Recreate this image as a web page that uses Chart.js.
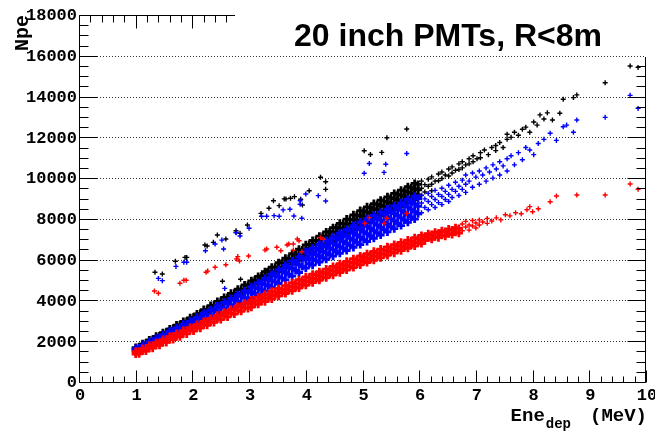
<!DOCTYPE html>
<html>
<head>
<meta charset="utf-8">
<script src="https://cdn.jsdelivr.net/npm/chart.js@4.4.1/dist/chart.umd.min.js"></script>
<style>
  html, body { margin: 0; padding: 0; background: #fff; }
  canvas { display: block; }
</style>
</head>
<body>
<canvas id="npeChart" width="655" height="432"></canvas>
<script>
// axis ticks
const xTicks = [0, 1, 2, 3, 4, 5, 6, 7, 8, 9, 10];
const yTicks = [0, 2000, 4000, 6000, 8000, 10000, 12000, 14000, 16000, 18000];

// each row: [Ene_dep (MeV), Npe, Npe, ...]
// dense part of each band
const blackCore = [
  [1.00,1690,1590],[1.06,1720,1620],[1.12,1870,1760],[1.18,1900,1790],[1.24,2060,1940],[1.30,2080,1970],
  [1.36,2240,2120],[1.42,2260,2140],[1.48,2420,2300],[1.54,2440,2320],[1.60,2600,2480],[1.66,2620,2490],
  [1.72,2790,2650],[1.78,2800,2670],[1.84,2970,2830],[1.90,2980,2840],[1.96,3150,3010],[2.02,3170,3020],
  [2.08,3340,3200],[2.14,3360,3210],[2.20,3550,3390],[2.26,3560,3400],[2.32,3750,3580],[2.38,3760,3590],
  [2.44,3950,3780],[2.50,3960,3780],[2.56,4150,3970],[2.62,4150,3970],[2.68,4350,4170],[2.74,4350,4160],
  [2.80,4550,4360],[2.86,4550,4350],[2.92,4760,4550],[2.98,4750,4540],
  [3.04,4960,4800,4630],[3.10,4990,4820],[3.16,5180,5000,4830],[3.22,5200,5020],[3.28,5410,5210,5020],
  [3.34,5420,5210],[3.40,5630,5420,5210],[3.46,5630,5410],[3.52,5850,5620,5400],[3.58,5840,5610],
  [3.64,6070,5830,5590],[3.70,6060,5810],[3.76,6290,6040,5790],[3.82,6270,6010],[3.88,6510,6240,5980],
  [3.94,6480,6210],[4.00,6730,6450,6170],
  [4.06,6740,6550,6360],[4.12,6940,6740,6550,6360],[4.18,6950,6750,6550],[4.24,7150,6950,6750,6540],
  [4.30,7150,6950,6740],[4.36,7360,7150,6940,6730],[4.42,7360,7140,6930],[4.48,7570,7350,7130,6910],
  [4.54,7570,7340,7120],[4.60,7780,7550,7330,7100],[4.66,7770,7540,7310],[4.72,7990,7750,7520,7290],
  [4.78,7980,7740,7500],[4.84,8200,7960,7720,7470],[4.90,8180,7940,7690],[4.96,8410,8160,7910,7660],
  [5.02,8380,8130,7870],[5.08,8590,8330,8080,7830],[5.14,8550,8290,8030],[5.20,8750,8500,8240,7990],
  [5.26,8710,8450,8190],[5.32,8920,8660,8400,8150],[5.38,8870,8610,8350],[5.44,9080,8820,8570,8310],
  [5.50,9040,8780,8510],[5.56,9250,8990,8730,8470],[5.62,9200,8940,8670],[5.68,9410,9150,8890,8620],
  [5.74,9360,9100,8830],[5.80,9580,9310,9050,8780],[5.86,9530,9260,9000],[5.92,9740,9470,9210,8940],
  [5.98,9690,9420,9160]
];
// sparse high-energy tail
const blackTail = [
  [6.04,9850,9500,9150],[6.10,9680,9320],[6.16,9950,9600],[6.22,10060,9700,9380],[6.28,9850],[6.34,10200,9870],
  [6.40,10300,9980],[6.46,10150],[6.52,10450,10100],[6.58,10550,10250],[6.64,10380],[6.70,10700,10420],
  [6.76,10800,10500],[6.82,10650],[6.88,10950,10700],[6.95,11100,10800],[7.02,10950],[7.08,11250,11000],
  [7.15,11380],[7.22,11150],[7.28,11500],[7.35,11600,11350],[7.42,11750],[7.48,11500],[7.55,11900,12150],
  [7.62,12000],[7.68,12250],[7.75,12100],[7.82,12400],[7.88,12500],[7.95,12250],[8.02,12750],[8.08,12600],
  [8.13,13100],[8.20,12900],[8.26,13200],[8.35,12850],[8.48,13180],[8.54,13870],[8.72,13950],[8.78,14080],
  [9.28,14680],[9.72,15500],[9.86,15430]
];
// isolated events above the band
const blackStray = [
  [1.34,5380],[1.47,5300],[1.70,5920],[1.87,6110],[1.90,6110],[2.22,6720],[2.26,6670],[2.37,6850],[2.44,7210],
  [2.53,4940],[2.59,7010],[2.77,7420],[2.77,7340],[2.84,7290],[2.85,5040],[2.97,7700],[3.21,8270],[3.31,5460],
  [3.35,8520],[3.43,8890],[3.53,8650],[3.62,8980],[3.65,8980],[3.73,9010],[3.80,9090],[3.91,8960],[3.94,8680],
  [4.06,9380],[4.26,10040],[4.35,9820],[4.35,9450],[5.03,11340],[5.14,11160],[5.34,11260],[5.43,11980],[5.78,12410]
];

const blueCore = [
  [1.00,1640,1510],[1.06,1650,1520],[1.12,1810,1670],[1.18,1820,1670],[1.24,1980,1830],[1.30,1980,1820],
  [1.36,2150,1990],[1.42,2140,1970],[1.48,2320,2140],[1.54,2310,2130],[1.60,2490,2300],[1.66,2470,2280],
  [1.72,2660,2460],[1.78,2630,2430],[1.84,2830,2620],[1.90,2800,2580],[1.96,2990,2780],[2.02,2960,2740],
  [2.08,3170,2940],[2.14,3140,2900],[2.20,3360,3110],[2.26,3310,3060],[2.32,3540,3280],[2.38,3490,3220],
  [2.44,3730,3450],[2.50,3670,3380],[2.56,3910,3620],[2.62,3840,3540],[2.68,4100,3790],[2.74,4020,3700],
  [2.80,4280,3960],[2.86,4200,3860],[2.92,4470,4130],[2.98,4370,4020],
  [3.04,4660,4390,4110],[3.10,4630,4340],[3.16,4870,4580,4290],[3.22,4830,4530],[3.28,5080,4780,4470],
  [3.34,5030,4720],[3.40,5290,4970,4650],[3.46,5240,4910],[3.52,5510,5170,4830],[3.58,5440,5090],
  [3.64,5720,5360,5010],[3.70,5640,5280],[3.76,5930,5560,5190],[3.82,5850,5470],[3.88,6140,5750,5370],
  [3.94,6050,5660],[4.00,6390,5990,5590],
  [4.06,6350,6070,5800],[4.12,6570,6290,6010,5730],[4.18,6520,6240,5950],[4.24,6750,6460,6170,5880],
  [4.30,6700,6400,6100],[4.36,6940,6630,6330,6020],[4.42,6870,6560,6250],[4.48,7120,6800,6490,6170],
  [4.54,7050,6720,6400],[4.60,7300,6970,6640,6310],[4.66,7230,6890,6550],[4.72,7480,7140,6800,6450],
  [4.78,7400,7050,6700],[4.84,7670,7310,6960,6600],[4.90,7580,7210,6850],[4.96,7850,7480,7110,6740],
  [5.02,7750,7380,7000],[5.08,8010,7640,7270,6890],[5.14,7910,7530,7160],[5.20,8170,7800,7420,7050],
  [5.26,8060,7690,7310],[5.32,8330,7950,7580,7210],[5.38,8220,7840,7470],[5.44,8480,8110,7740,7360],
  [5.50,8380,8000,7620],[5.56,8640,8260,7900,7520],[5.62,8530,8160,7780],[5.68,8790,8420,8050,7670],
  [5.74,8690,8310,7940],[5.80,8950,8580,8200,7830],[5.86,8840,8470,8090],[5.92,9110,8730,8360,7990],
  [5.98,9000,8620,8250]
];
const blueTail = [
  [6.04,9160,8780,8300],[6.10,8980,8560],[6.16,9250,8850,8450],[6.22,9100,8700],[6.28,9400,8950,8560],
  [6.34,9200,8800],[6.40,9500,9100,8700],[6.46,9350,8950],[6.52,9650,9200,8850],[6.58,9450,9050],
  [6.64,9800,9350],[6.70,9600,9150],[6.76,9900,9450],[6.82,10150,9700,9300],[6.88,9850],[6.94,10250,9550],
  [7.00,10050],[7.06,10350,9700],[7.12,10150],[7.18,10500,9850],[7.24,10300],[7.30,10650,10000],[7.36,10450],
  [7.42,10800,10150],[7.48,10600],[7.55,10950,10350],[7.62,11100],[7.68,10650],[7.75,11250],[7.82,10900],
  [7.88,11500],[7.95,11380],[8.02,11150],[8.10,11700],[8.20,11900],[8.31,12200],[8.42,11850],[8.54,12520],
  [8.60,12600],[8.72,12250],[8.78,12850],[9.28,12980],[9.72,14060],[9.86,13420]
];
const blueStray = [
  [1.40,5080],[1.47,4970],[1.71,5670],[1.85,5870],[1.90,5870],[2.23,6440],[2.40,6770],[2.52,6960],[2.55,6520],
  [2.57,4590],[2.77,7320],[2.84,7160],[3.00,7540],[3.22,8130],[3.31,8130],[3.44,8160],[3.53,8130],[3.60,8440],
  [3.72,8470],[3.79,8140],[3.90,8890],[3.90,8720],[3.93,8030],[4.00,9220],[4.22,9140],[4.35,8880],[5.03,10240],
  [5.12,10720],[5.38,10280],[5.41,10680],[5.78,11210]
];

const redCore = [
  [1.00,1490,1370],[1.06,1500,1380],[1.12,1640,1520],[1.18,1640,1520],[1.24,1790,1660],[1.30,1790,1660],
  [1.36,1930,1800],[1.42,1930,1800],[1.48,2080,1940],[1.54,2080,1940],[1.60,2230,2090],[1.66,2230,2080],
  [1.72,2380,2230],[1.78,2370,2220],[1.84,2520,2370],[1.90,2520,2360],[1.96,2670,2520],[2.02,2660,2500],
  [2.08,2820,2660],[2.14,2810,2640],[2.20,2970,2800],[2.26,2950,2780],[2.32,3120,2940],[2.38,3100,2920],
  [2.44,3270,3090],[2.50,3240,3060],[2.56,3420,3230],[2.62,3390,3190],[2.68,3570,3370],[2.74,3540,3330],
  [2.80,3720,3510],[2.86,3680,3470],[2.92,3870,3650],[2.98,3830,3610],
  [3.04,4020,3850,3670],[3.10,4000,3830],[3.16,4160,3980,3810],[3.22,4140,3960],[3.28,4300,4120,3940],
  [3.34,4280,4100],[3.40,4450,4260,4070],[3.46,4420,4240],[3.52,4590,4400,4210],[3.58,4560,4370],
  [3.64,4730,4540,4340],[3.70,4700,4510],[3.76,4870,4670,4470],[3.82,4840,4640],[3.88,5020,4810,4610],
  [3.94,4980,4780],[4.00,5160,4950,4740],
  [4.06,5120,4910],[4.12,5290,5080,4870],[4.18,5250,5030],[4.24,5410,5200,4990],[4.30,5370,5160],
  [4.36,5540,5330,5110],[4.42,5500,5280],[4.48,5670,5450,5240],[4.54,5620,5410],[4.60,5800,5580,5360],
  [4.66,5750,5530],[4.72,5920,5710,5490],[4.78,5880,5660],[4.84,6050,5830,5610],[4.90,6000,5790],
  [4.96,6180,5960,5740],[5.02,6130,5910],[5.08,6290,6080,5860],[5.14,6240,6020],[5.20,6410,6190,5970],
  [5.26,6350,6140],[5.32,6520,6300,6090],[5.38,6470,6260],[5.44,6630,6420,6210],[5.50,6580,6370],
  [5.56,6740,6530,6320],[5.62,6690,6490],[5.68,6850,6650,6440],[5.74,6810,6600],[5.80,6960,6760,6560],
  [5.86,6920,6720],[5.92,7080,6870,6670],[5.98,7030,6830],
  [6.04,7190,6990,6790],[6.10,7140,6930],[6.16,7270,7060],[6.22,7230,7000],[6.28,7350,7130],[6.34,7300,7080],
  [6.40,7420,7200],[6.46,7380,7150],[6.52,7500,7270],[6.58,7450,7230],[6.64,7570,7350],[6.70,7530,7300]
];
const redTail = [
  [6.76,7750,7420],[6.82,7880,7600],[6.88,7700,7450],[6.94,7920,7650],[7.00,7800,7550],[7.06,7950,7700],
  [7.12,7850],[7.20,8020,7780],[7.28,7900],[7.36,8050],[7.44,7950],[7.52,8200],[7.60,8150],[7.70,8300],
  [7.80,8250],[7.90,8450],[7.95,8600],[8.00,8350],[8.10,8500],[8.31,8840],[8.42,9120],[8.78,9170],
  [9.28,9170],[9.72,9710],[9.86,9450]
];
const redStray = [
  [1.33,4460],[1.40,4350],[1.78,4840],[1.85,4990],[1.89,4990],[2.24,5380],[2.27,5440],[2.40,5630],[2.59,5750],
  [2.78,6030],[2.80,6150],[2.83,5930],[2.99,6180],[3.28,6470],[3.31,6520],[3.49,6610],[3.56,6440],[3.67,6720],
  [3.70,6770],[3.78,6470],[3.78,6770],[3.85,7010],[3.88,6930],[3.93,6390],[4.26,7080],[4.31,7000],[5.04,7780],
  [5.12,8060],[5.38,7780],[5.43,8030],[5.78,8270]
];

function toPoints(...groups) {
  const pts = [];
  groups.forEach(rows => rows.forEach(r => {
    for (let i = 1; i < r.length; i++) pts.push({ x: r[0], y: r[i] });
  }));
  return pts;
}

const monoBold = 'bold 17px "Liberation Mono", "Courier New", monospace';

// ROOT-like frame: dotted grid, inward ticks, labels, titles
const framePlugin = {
  id: 'rootFrame',
  beforeDraw(chart) {
    const c = chart.ctx;
    c.save();
    c.fillStyle = '#fff';
    c.fillRect(0, 0, chart.width, chart.height);
    c.restore();
  },
  beforeDatasetsDraw(chart) {
    const c = chart.ctx, a = chart.chartArea, ys = chart.scales.y;
    c.save();
    c.strokeStyle = '#333';
    c.lineWidth = 1;
    c.setLineDash([1, 2]);
    yTicks.forEach(v => {
      if (v === 0 || v === 18000) return;
      const py = Math.round(ys.getPixelForValue(v)) + 0.5;
      c.beginPath();
      c.moveTo(a.left, py);
      c.lineTo(a.right, py);
      c.stroke();
    });
    c.restore();
  },
  afterDatasetsDraw(chart) {
    const c = chart.ctx, a = chart.chartArea;
    const xs = chart.scales.x, ys = chart.scales.y;
    const L = a.left + 0.5, R = Math.round(a.right) - 0.5, T = a.top + 0.5, B = Math.round(a.bottom) + 0.5;
    const topEnd = 235, rightStart = 57;
    c.save();
    c.strokeStyle = '#000';
    c.lineWidth = 1;
    c.beginPath();
    c.moveTo(L, T); c.lineTo(L, B); c.lineTo(R, B); c.lineTo(R, rightStart);
    c.moveTo(L, T); c.lineTo(topEnd, T);
    // y ticks (every 500, major every 2000)
    for (let i = 0; i <= 36; i++) {
      const py = Math.round(ys.getPixelForValue(i * 500)) + 0.5;
      const len = i % 4 === 0 ? 18 : 9;
      c.moveTo(L, py); c.lineTo(L + len, py);
      if (py >= rightStart) { c.moveTo(R, py); c.lineTo(R - len, py); }
    }
    // x ticks (every 0.2, major every 1)
    for (let i = 0; i <= 50; i++) {
      const px = Math.round(xs.getPixelForValue(i / 5)) + 0.5;
      const major = i % 5 === 0;
      c.moveTo(px, B); c.lineTo(px, B - (major ? 12 : 6));
      if (px <= topEnd) { c.moveTo(px, T); c.lineTo(px, T + (major ? 13 : 7)); }
    }
    c.stroke();

    // tick labels
    c.fillStyle = '#000';
    c.font = monoBold;
    c.textAlign = 'right';
    c.textBaseline = 'middle';
    yTicks.forEach(v => c.fillText(String(v), 77, ys.getPixelForValue(v) + 1));
    c.textAlign = 'center';
    c.textBaseline = 'top';
    xTicks.forEach(v => c.fillText(String(v), xs.getPixelForValue(v) + 1, 387));

    // y title
    c.save();
    c.translate(28, 15);
    c.rotate(-Math.PI / 2);
    c.font = 'bold 20px "Liberation Mono", "Courier New", monospace';
    c.textAlign = 'right';
    c.textBaseline = 'alphabetic';
    c.fillText('Npe', 0, 0);
    c.restore();

    // x title: Ene_dep  (MeV)
    c.textBaseline = 'alphabetic';
    c.textAlign = 'left';
    const big = 'bold 19px "Liberation Mono", "Courier New", monospace';
    const small = 'bold 14px "Liberation Mono", "Courier New", monospace';
    c.font = big;
    const wUnit = c.measureText('(MeV)').width;
    const wEne = c.measureText('Ene').width;
    c.font = small;
    const wDep = c.measureText('dep').width;
    const gap = 20;
    let x0 = 647 - wUnit - gap - wDep - wEne;
    c.font = big;
    c.fillText('Ene', x0, 421);
    c.font = small;
    c.fillText('dep', x0 + wEne + 1, 428);
    c.font = big;
    c.fillText('(MeV)', 647 - wUnit, 421);

    // plot title
    c.font = 'bold 32px "Liberation Sans", Arial, sans-serif';
    c.fillText('20 inch PMTs, R<8m', 294, 46);
    c.restore();
  }
};

// dense band markers are drawn heavier so the cloud fills in like the original
const denseMarker = { pointStyle: 'cross', pointRadius: 4, pointBorderWidth: 2.8, pointHoverRadius: 0 };
const thinMarker = { pointStyle: 'cross', pointRadius: 2.5, pointBorderWidth: 1.4, pointHoverRadius: 0 };

function series(label, colour, order, pts, marker) {
  return Object.assign({ label, data: pts, borderColor: colour, backgroundColor: colour, order }, marker);
}

new Chart(document.getElementById('npeChart').getContext('2d'), {
  type: 'scatter',
  data: {
    datasets: [
      series('red band', '#ff0000', 0, toPoints(redCore), denseMarker),
      series('red', '#ff0000', 1, toPoints(redTail, redStray), thinMarker),
      series('blue band', '#0000ff', 2, toPoints(blueCore), denseMarker),
      series('blue', '#0000ff', 3, toPoints(blueTail, blueStray), thinMarker),
      series('black band', '#000000', 4, toPoints(blackCore), denseMarker),
      series('black', '#000000', 5, toPoints(blackTail, blackStray), thinMarker)
    ]
  },
  options: {
    responsive: false,
    animation: false,
    events: [],
    layout: { padding: { left: 79, right: 9, top: 15, bottom: 50 } },
    plugins: { legend: { display: false }, tooltip: { enabled: false } },
    scales: {
      x: { type: 'linear', min: 0, max: 10, display: false },
      y: { type: 'linear', min: 0, max: 18000, display: false }
    }
  },
  plugins: [framePlugin]
});
</script>
</body>
</html>
